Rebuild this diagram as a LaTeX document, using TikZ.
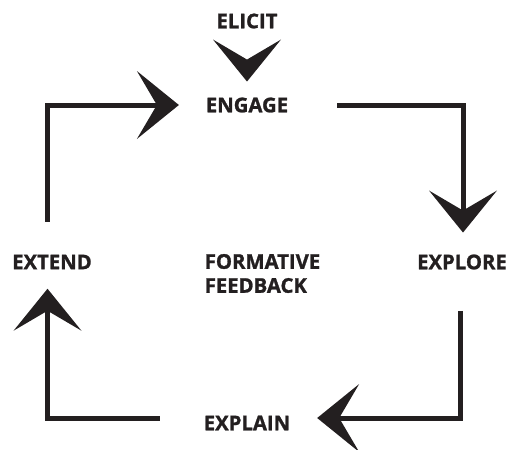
\documentclass[tikz,border=0pt]{standalone}
\usepackage{fontspec}
\setmainfont{Open Sans}[BoldFeatures={FakeBold=1.2}]
\usetikzlibrary{arrows.meta}
\definecolor{ink}{HTML}{231F20}
\begin{document}
\begin{tikzpicture}[x=1pt,y=-1pt,
  lbl/.style={inner sep=0pt,outer sep=0pt,text=ink,font=\fontsize{20.3}{24}\selectfont\bfseries},
  flow/.style={draw=ink,line width=5pt,
    -{Stealth[length=42pt,width=68pt,inset=20pt,line width=0pt]}}]
\useasboundingbox (0,0) rectangle (509,450);
\node[lbl] (elicit) at (247,21) {ELICIT};
\node[lbl] (engage) at (247,105) {ENGAGE};
\node[lbl] (explore) at (462,262) {EXPLORE};
\node[lbl] (explain) at (247,423) {EXPLAIN};
\node[lbl] (extend) at (52,262) {EXTEND};
\node[lbl,align=left] (fb) at (262.5,273.5) {FORMATIVE\\FEEDBACK};
\draw[flow] ([xshift=-4.5pt,yshift=33pt]extend.north) |- ([xshift=-27pt]engage.west);
\draw[flow] ([xshift=49pt]engage.east) -| ([xshift=1pt,yshift=22pt]explore.north);
\draw[flow] ([xshift=-2pt,yshift=-41.5pt]explore.south) |- ([xshift=27pt,yshift=5pt]explain.east);
\draw[flow] ([xshift=-44pt,yshift=5pt]explain.west) -| ([xshift=-4.5pt,yshift=-19.5pt]extend.south);
\draw[flow] ([yshift=-33pt]elicit.south) -- ([yshift=16pt]engage.north);
\end{tikzpicture}
\end{document}
